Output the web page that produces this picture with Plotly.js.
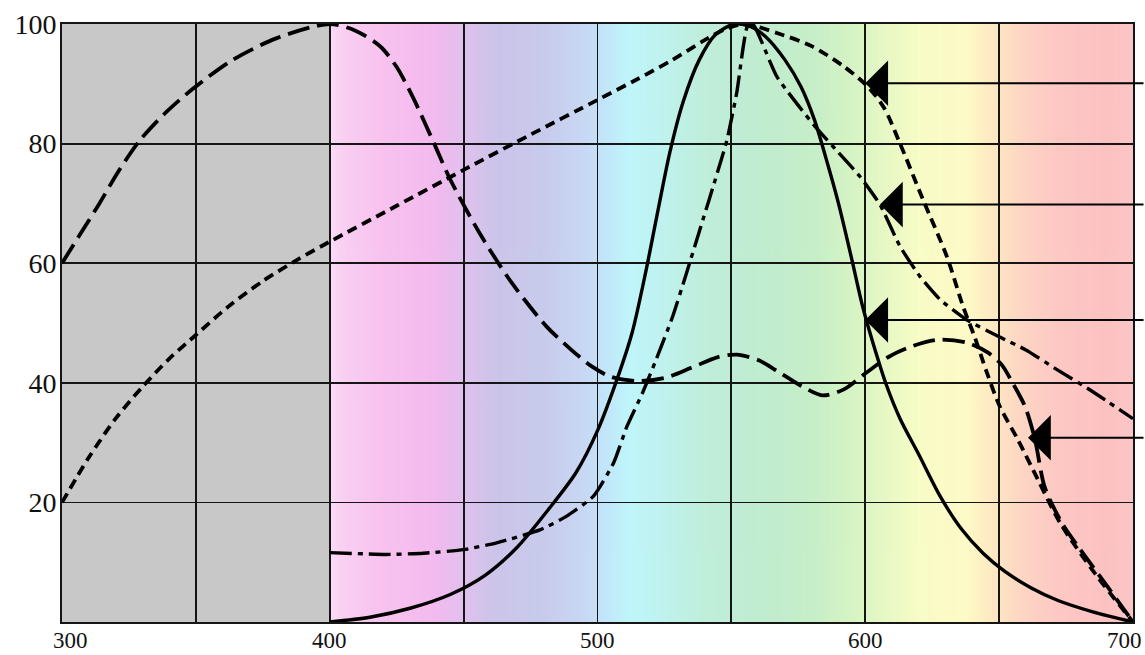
<!DOCTYPE html>
<html>
<head>
<meta charset="utf-8">
<script src="https://cdn.plot.ly/plotly-3.0.1.min.js"></script>
<style>
  html, body { margin: 0; padding: 0; background: #ffffff; }
  #chart { width: 1145px; height: 655px; }
</style>
</head>
<body>
<div id="chart"></div>
<script>
// ---- Data (wavelength nm, relative value %) ----
const curveA_x = [300, 307, 314, 321, 329, 339, 349, 363, 380, 400, 410, 419, 425, 431, 439, 445, 456, 468, 481, 490, 498, 505, 515, 525, 535, 545, 552, 560, 567, 576, 584, 592, 601, 609, 618, 627, 638, 646, 651, 655, 659.7, 663.4, 667, 673.4, 680, 690, 700];
const curveA_y = [60, 65, 70, 75.3, 80.5, 85.3, 89.2, 93.8, 97.6, 100, 98.8, 96.2, 92.8, 87.8, 80, 74, 65, 56.7, 49.4, 45.6, 42.7, 41, 40.3, 40.8, 42.5, 44.3, 44.7, 43.8, 42, 39.5, 37.9, 38.9, 41.9, 44.4, 46.2, 47.2, 46.7, 45, 43, 40, 36, 30.5, 22.6, 16.6, 12.3, 6.2, 0];

const curveB_x = [300, 310, 320, 330, 340, 350, 362, 375, 388, 400, 425, 450, 475, 500, 515, 528, 540, 548, 555, 567, 580, 592, 601, 607, 613, 621.6, 630.5, 636.5, 641, 645.5, 650.3, 657, 664.5, 673, 686, 700];
const curveB_y = [20, 27.5, 34, 39.3, 44, 48, 52.7, 57, 60.6, 63.6, 69.6, 75.6, 81.5, 87.3, 90.8, 94, 97.3, 99.2, 100, 98.5, 96.3, 92.9, 89.5, 86, 80, 70.6, 61.1, 52.8, 47.5, 41.6, 36, 30.5, 23.8, 16.4, 8, 0];

const curveC_x = [400, 421, 435, 450, 462, 478.5, 488.5, 498.4, 506, 511, 517, 522, 528, 533, 539.4, 544, 548.4, 552, 556, 558, 567, 581, 590, 598, 605.5, 613, 620.4, 628, 638, 650, 660, 671.6, 684, 700];
const curveC_y = [11.6, 11.3, 11.5, 12.1, 13.2, 15.4, 17.7, 21, 26.6, 32.7, 38.5, 44, 51, 58, 67.3, 74, 80.7, 88.5, 99.6, 100, 91.2, 83, 78.5, 74.5, 69.8, 62.8, 57.8, 53.9, 50.5, 47.7, 45.5, 42.2, 38.8, 34];

const curveD_x = [400, 415, 430, 445, 458, 470, 482, 492, 500, 508, 513, 518, 522, 527, 532, 538, 544, 551, 557, 563, 570, 576, 581, 586, 590, 595, 599, 603, 608, 613, 620, 628, 636, 644, 652, 662, 672, 685, 700];
const curveD_y = [0, 0.8, 2.3, 4.6, 7.8, 12.5, 19, 25, 32, 41.5, 48.5, 58.5, 67.5, 78.5, 87, 94, 98.2, 100, 99.6, 97.8, 94, 89.5, 84, 76.5, 70, 60.6, 52.8, 46.5, 39.5, 34, 28, 21, 15.5, 11.5, 8.5, 5.7, 3.6, 1.7, 0];

// arrow pointers (tip wavelength, level)
const arrowX = [600, 605.5, 600, 660.8];
const arrowY = [90.1, 69.8, 50.5, 30.8];

// axis ticks
const xGridVals = [300, 350, 400, 450, 500, 550, 600, 650, 700];
const xLabelVals = [300, 400, 500, 600, 700];
const xLabelText = ['300', '400', '500', '600', '700'];
const yTickVals = [0, 20, 40, 60, 80, 100];
const yTickText = ['', '20', '40', '60', '80', '100'];

// spectrum background colour stops (wavelength, colour)
const spectrumNm = [400, 405, 420, 440, 452, 462, 480, 495, 503, 512, 525, 540, 560, 580, 595, 608, 620, 638, 648, 658, 672, 690, 700];
const spectrumCol = ['#fbdcf6', '#f9cff2', '#f8c2ef', '#f2baee', '#dcc2ec', '#ccc4ea', '#c8cbec', '#c8d8f4', '#c2e6f9', '#bff6fa', '#bff2ee', '#bfeedb', '#c0ecd0', '#c6eec8', '#d6f4c4', '#e8f8c4', '#f8fcc6', '#fdfac6', '#fde8c2', '#fdd6c4', '#fdc8c4', '#fcc2c2', '#fcc6c6'];

// ---- build the spectrum image ----
const cv = document.createElement('canvas');
cv.width = 900; cv.height = 4;
const ctx = cv.getContext('2d');
const grad = ctx.createLinearGradient(0, 0, cv.width, 0);
const nm0 = spectrumNm[0], nm1 = spectrumNm[spectrumNm.length - 1];
spectrumNm.forEach((w, i) => grad.addColorStop((w - nm0) / (nm1 - nm0), spectrumCol[i]));
ctx.fillStyle = grad;
ctx.fillRect(0, 0, cv.width, cv.height);
const spectrumSrc = cv.toDataURL('image/png');

const traces = [
  {x: curveA_x, y: curveA_y, mode: 'lines', line: {color: '#000', width: 3.8, dash: '22px,8px', shape: 'spline', smoothing: 0.8}, hoverinfo: 'skip'},
  {x: curveB_x, y: curveB_y, mode: 'lines', line: {color: '#000', width: 3.8, dash: '10px,6px', shape: 'spline', smoothing: 0.8}, hoverinfo: 'skip'},
  {x: curveC_x, y: curveC_y, mode: 'lines', line: {color: '#000', width: 3.4, dash: '22px,6px,5px,6px', shape: 'spline', smoothing: 0.5}, hoverinfo: 'skip'},
  {x: curveD_x, y: curveD_y, mode: 'lines', line: {color: '#000', width: 3.4, shape: 'spline', smoothing: 0.8}, hoverinfo: 'skip'}
];

const serifFamily = '"Liberation Serif", "DejaVu Serif", serif';

const tailPx = [290, 275, 290, 125];
const arrowAnns = arrowX.map((x, i) => ({
  x: x, y: arrowY[i], xref: 'x', yref: 'y',
  text: '', showarrow: true, arrowhead: 1, arrowsize: 3.8, arrowwidth: 2,
  arrowcolor: '#000', ax: tailPx[i], ay: 0, standoff: 0
}));

const lastIdx = xLabelVals.length - 1;
const xLabelAnns = xLabelVals.map((v, i) => ({
  x: v, xref: 'x', y: 0, yref: 'paper',
  text: xLabelText[i], showarrow: false,
  xanchor: i === lastIdx ? 'right' : 'center',
  xshift: i === 0 ? 8 : (i === lastIdx ? 11 : 0),
  yanchor: 'top', yshift: -4,
  font: {family: serifFamily, size: 23, color: '#111'}
}));

const layout = {
  width: 1145, height: 655,
  margin: {l: 62, r: 12, t: 24, b: 33, pad: 0},
  paper_bgcolor: '#ffffff',
  plot_bgcolor: '#c8c8c8',
  showlegend: false,
  xaxis: {
    range: [300, 700], tickmode: 'array', tickvals: xGridVals, showticklabels: false,
    showgrid: true, gridcolor: '#151515', gridwidth: 1.8, zeroline: false,
    showline: true, linecolor: '#151515', linewidth: 2, mirror: true,
    ticks: '', fixedrange: true
  },
  yaxis: {
    range: [0, 100], tickmode: 'array', tickvals: yTickVals, ticktext: yTickText,
    showgrid: true, gridcolor: '#151515', gridwidth: 1.8, zeroline: false,
    showline: true, linecolor: '#151515', linewidth: 2, mirror: true,
    ticks: '', ticklabelstandoff: -2,
    tickfont: {family: serifFamily, size: 28, color: '#111'}, fixedrange: true
  },
  images: [{
    source: spectrumSrc, xref: 'x', yref: 'y', x: nm0, y: 100,
    sizex: nm1 - nm0, sizey: 100, sizing: 'stretch', xanchor: 'left', yanchor: 'top',
    layer: 'below', opacity: 1
  }],
  annotations: arrowAnns.concat(xLabelAnns)
};

Plotly.newPlot('chart', traces, layout, {displayModeBar: false, staticPlot: true});
</script>
</body>
</html>
